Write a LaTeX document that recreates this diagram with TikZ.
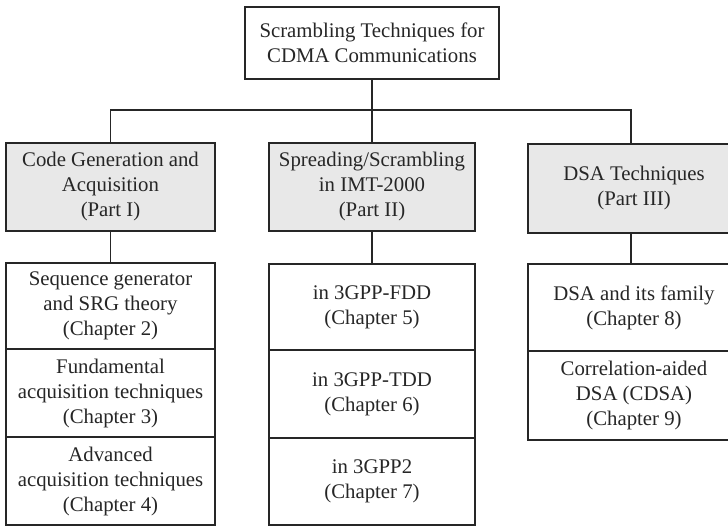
\documentclass[tikz,border=0pt]{standalone}
\usepackage{fontspec}
\setmainfont{Liberation Serif}
\begin{document}
\begin{tikzpicture}[x=1pt,y=1pt,
  box/.style={draw=black!85, line width=1.6pt, inner sep=0pt, align=center,
    font=\fontsize{20.8}{25}\selectfont, text=black!85},
  partbox/.style={box, fill=black!9},
  chapbox/.style={box, fill=white},
  link/.style={draw=black!85, line width=1.6pt}]
\useasboundingbox (0,0) rectangle (728,-526);

% title
\node[box, minimum width=254, minimum height=72] (top) at (372,-43)
  {Scrambling Techniques for\\CDMA Communications};

% parts
\node[partbox, minimum width=209, minimum height=88] (p1) at (110.5,-187)
  {Code Generation and\\Acquisition\\(Part I)};
\node[partbox, minimum width=206, minimum height=88] (p2) at (372,-187)
  {Spreading/Scrambling\\in IMT-2000\\(Part II)};
\node[partbox, minimum width=212, minimum height=89] (p3) at (634,-188.5)
  {DSA Techniques\\(Part III)};

% chapters, Part I
\node[chapbox, minimum width=209, minimum height=86] (c2) at (110.5,-306)
  {Sequence generator\\and SRG theory\\(Chapter 2)};
\node[chapbox, minimum width=209, minimum height=88] (c3) at (110.5,-393)
  {Fundamental\\acquisition techniques\\(Chapter 3)};
\node[chapbox, minimum width=209, minimum height=88] (c4) at (110.5,-481)
  {Advanced\\acquisition techniques\\(Chapter 4)};

% chapters, Part II
\node[chapbox, minimum width=206, minimum height=86] (c5) at (372,-307)
  {in 3GPP-FDD\\(Chapter 5)};
\node[chapbox, minimum width=206, minimum height=88] (c6) at (372,-394)
  {in 3GPP-TDD\\(Chapter 6)};
\node[chapbox, minimum width=206, minimum height=87] (c7) at (372,-481.5)
  {in 3GPP2\\(Chapter 7)};

% chapters, Part III (right edge runs off the page)
\node[chapbox, minimum width=212, minimum height=87] (c8) at (634,-307.5)
  {DSA and its family\\(Chapter 8)};
\node[chapbox, minimum width=212, minimum height=89] (c9) at (634,-395.5)
  {Correlation-aided\\DSA (CDSA)\\(Chapter 9)};

% connectors
\coordinate (bus) at (372,-110);
\coordinate (r) at (631,-110);
\draw[link] (top.south) -- (top.south |- bus);
\draw[link] (p1.north) -- (p1.north |- bus) -- (r) -- (r |- p3.north);
\draw[link] (p2.north) -- (p2.north |- bus);
\draw[link] (p1.south) -- (c2.north);
\draw[link] (p2.south) -- (c5.north);
\draw[link] (r |- p3.south) -- (r |- c8.north);
\end{tikzpicture}
\end{document}
